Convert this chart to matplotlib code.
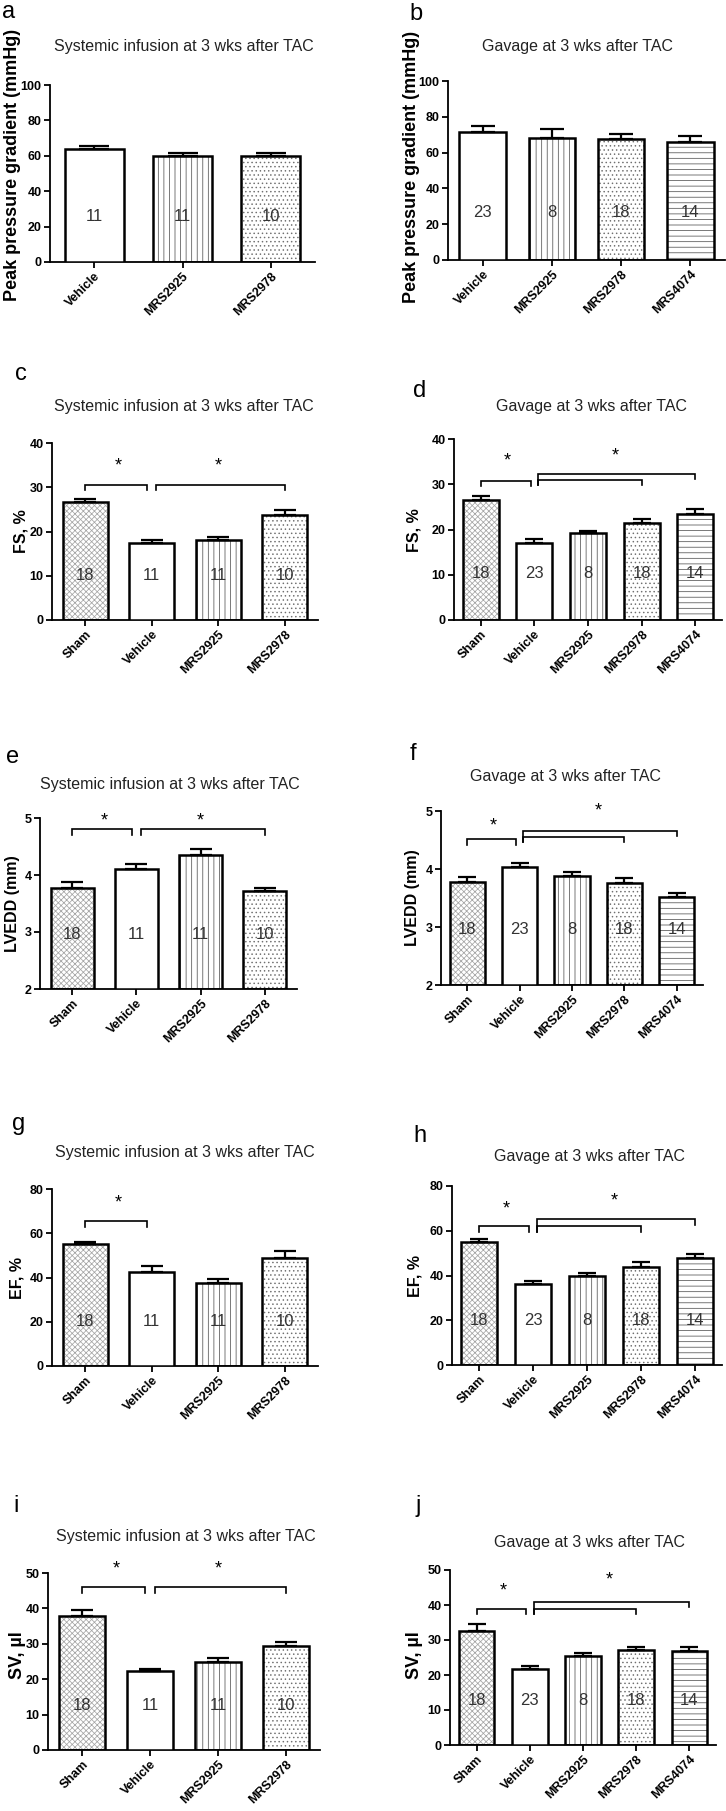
import matplotlib
matplotlib.use('Agg')
import matplotlib.pyplot as plt
import numpy as np

plt.rcParams['font.family'] = ['Liberation Sans', 'DejaVu Sans']
plt.rcParams['hatch.linewidth'] = 0.55

# ---------------- data ----------------
title_sys = 'Systemic infusion at 3 wks after TAC'
title_gav = 'Gavage at 3 wks after TAC'

a_groups = ['Vehicle', 'MRS2925', 'MRS2978']
a_mean = [63.8, 60.0, 60.0]
a_sem = [1.8, 1.7, 1.5]
a_n = [11, 11, 10]

b_groups = ['Vehicle', 'MRS2925', 'MRS2978', 'MRS4074']
b_mean = [71.4, 68.4, 67.8, 66.0]
b_sem = [3.3, 4.6, 2.8, 3.1]
b_n = [23, 8, 18, 14]

sys_groups = ['Sham', 'Vehicle', 'MRS2925', 'MRS2978']
sys_n = [18, 11, 11, 10]
gav_groups = ['Sham', 'Vehicle', 'MRS2925', 'MRS2978', 'MRS4074']
gav_n = [18, 23, 8, 18, 14]

c_mean = [26.6, 17.5, 18.0, 23.8]
c_sem = [0.7, 0.6, 0.7, 1.1]
d_mean = [26.6, 17.1, 19.2, 21.4, 23.5]
d_sem = [0.7, 0.9, 0.5, 1.0, 1.0]

e_mean = [3.77, 4.10, 4.35, 3.72]
e_sem = [0.10, 0.09, 0.10, 0.06]
f_mean = [3.78, 4.04, 3.885, 3.76, 3.52]
f_sem = [0.09, 0.07, 0.055, 0.09, 0.07]

g_mean = [55.0, 42.6, 37.6, 48.6]
g_sem = [1.0, 2.6, 1.6, 3.2]
h_mean = [55.0, 36.0, 40.0, 43.7, 47.7]
h_sem = [1.1, 1.6, 1.2, 2.2, 1.8]

i_mean = [37.9, 22.4, 24.9, 29.4]
i_sem = [1.6, 0.5, 1.2, 1.0]
j_mean = [32.7, 21.6, 25.3, 27.1, 27.0]
j_sem = [1.8, 1.1, 1.0, 0.9, 1.0]

# significance brackets: (from group, to group, level)
c_sig = [(0, 1, 30.6), (1, 3, 30.6)]
d_sig = [(0, 1, 30.8), (1, 3, 31.0), (1, 4, 32.3)]
e_sig = [(0, 1, 4.80), (1, 3, 4.80)]
f_sig = [(0, 1, 4.51), (1, 3, 4.55), (1, 4, 4.66)]
g_sig = [(0, 1, 65.5)]
h_sig = [(0, 1, 62.2), (1, 3, 62.2), (1, 4, 65.1)]
i_sig = [(0, 1, 46.05), (1, 3, 46.05)]
j_sig = [(0, 1, 39.0), (1, 3, 39.0), (1, 4, 41.0)]

# ---------------- styles ----------------
STYLE = {
    'Sham': dict(hatch='xxxxxx', hc='#a5a5a5'),
    'Vehicle': dict(hatch=None, hc='white'),
    'MRS2925': dict(hatch='|||', hc='#555555'),
    'MRS2978': dict(hatch='....', hc='#707070'),
    'MRS4074': dict(hatch='---', hc='#555555'),
}

W, H = 726, 1811
fig = plt.figure(figsize=(W / 100, H / 100), dpi=100)


def panel(letter, letter_xy, title, title_xy, box, groups, mean, sem, n,
          ylim, yticks, ylabel, ylab_xy, ylab_fs, sig=None, sig_drop=0,
          stars=None, n_frac=0.255):
    x0, x1, ytop, ybot = box
    ax = fig.add_axes([x0 / W, 1 - ybot / H, (x1 - x0) / W, (ybot - ytop) / H])
    x = np.arange(len(groups))
    bw = 0.67
    for xi, g, m in zip(x, groups, mean):
        st = STYLE[g]
        if st['hatch']:
            ax.bar(xi, m - ylim[0], bw, bottom=ylim[0], color='white',
                   edgecolor=st['hc'], hatch=st['hatch'], linewidth=0, zorder=2)
        ax.bar(xi, m - ylim[0], bw, bottom=ylim[0], fill=(st['hatch'] is None),
               facecolor='white', edgecolor='black', linewidth=1.8, zorder=3)
    bar_px = bw * (x1 - x0) / len(groups)
    ax.errorbar(x, mean, yerr=[np.zeros(len(mean)), sem], fmt='none',
                ecolor='black', elinewidth=1.6, capsize=bar_px * 0.25 * 0.72,
                capthick=1.6, zorder=4)
    for xi, k in zip(x, n):
        ax.text(xi, n_frac, str(k), transform=ax.get_xaxis_transform(),
                ha='center', va='center', fontsize=12, color='#333333', zorder=5)
    ax.set_xlim(-0.5, len(groups) - 0.5)
    ax.set_ylim(*ylim)
    ax.set_yticks(yticks)
    ax.set_xticks(x)
    ax.set_xticklabels(groups, rotation=45, ha='right', rotation_mode='anchor',
                       fontsize=9, fontweight='bold')
    for lab in ax.get_yticklabels():
        lab.set_fontweight('bold')
        lab.set_fontsize(9)
    for s in ['top', 'right']:
        ax.spines[s].set_visible(False)
    for s in ['left', 'bottom']:
        ax.spines[s].set_linewidth(1.3)
    ax.tick_params(direction='out', length=4, width=1.3, pad=2)
    # significance
    if sig:
        off = 0.07
        lefts = {}
        for (a, b, lev) in sig:
            xa = a + (off if a == 1 else 0)
            lefts.setdefault(xa, []).append(lev)
        for (a, b, lev) in sig:
            xa = a + (off if a == 1 else 0)
            xb = b - (off if b == 1 else 0)
            lb = min(lefts[xa]) - sig_drop
            ax.plot([xa, xa, xb, xb], [lb, lev, lev, lev - sig_drop],
                    color='black', lw=1.2, clip_on=False, zorder=5,
                    solid_joinstyle='miter')
        for (sx, sy) in stars:
            ax.text(sx, sy, '*', ha='center', va='center', fontsize=13,
                    clip_on=False)
    fig.text(letter_xy[0] / W, 1 - letter_xy[1] / H, letter, fontsize=17,
             ha='center', va='baseline')
    fig.text(title_xy[0] / W, 1 - title_xy[1] / H, title, fontsize=11.5,
             ha='center', va='center', color='#222222')
    fig.text(ylab_xy[0] / W, 1 - ylab_xy[1] / H, ylabel, rotation=90,
             ha='center', va='center', fontsize=ylab_fs, fontweight='bold')
    return ax


panel('a', (9, 18), title_sys, (184, 47), (50, 315, 85, 262), a_groups, a_mean,
      a_sem, a_n, (0, 100), [0, 20, 40, 60, 80, 100],
      'Peak pressure gradient (mmHg)', (13, 165), 13)
panel('b', (416, 20), title_gav, (578, 47), (448, 725, 81, 260), b_groups, b_mean,
      b_sem, b_n, (0, 100), [0, 20, 40, 60, 80, 100],
      'Peak pressure gradient (mmHg)', (411, 167), 13, n_frac=0.266)

panel('c', (21, 380), title_sys, (184, 407), (52, 318, 443, 620), sys_groups,
      c_mean, c_sem, sys_n, (0, 40), [0, 10, 20, 30, 40], 'FS, %', (21, 531), 11.5,
      sig=c_sig, sig_drop=1.2, stars=[(0.5, 34.7), (2.0, 34.7)], n_frac=0.25)
panel('d', (420, 397), title_gav, (591, 407), (454, 722, 439, 620), gav_groups,
      d_mean, d_sem, gav_n, (0, 40), [0, 10, 20, 30, 40], 'FS, %', (414, 530), 11.5,
      sig=d_sig, sig_drop=1.1, stars=[(0.5, 35.2), (2.5, 36.2)], n_frac=0.255)

panel('e', (13, 763), title_sys, (170, 784), (40, 297, 818, 989), sys_groups,
      e_mean, e_sem, sys_n, (2, 5), [2, 3, 4, 5], 'LVEDD (mm)', (13, 904), 11.5,
      sig=e_sig, sig_drop=0.1, stars=[(0.5, 4.94), (2.0, 4.94)], n_frac=0.317)
panel('f', (413, 760), title_gav, (566, 777), (441, 703, 811, 985), gav_groups,
      f_mean, f_sem, gav_n, (2, 5), [2, 3, 4, 5], 'LVEDD (mm)', (413, 898), 11.5,
      sig=f_sig, sig_drop=0.09, stars=[(0.5, 4.75), (2.5, 5.0)], n_frac=0.317)

panel('g', (19, 1130), title_sys, (185, 1152), (52, 318, 1189, 1366), sys_groups,
      g_mean, g_sem, sys_n, (0, 80), [0, 20, 40, 60, 80], 'EF, %', (17, 1278), 11.5,
      sig=g_sig, sig_drop=2.8, stars=[(0.5, 73.5)], n_frac=0.254)
panel('h', (420, 1142), title_gav, (589, 1157), (452, 722, 1186, 1365), gav_groups,
      h_mean, h_sem, gav_n, (0, 80), [0, 20, 40, 60, 80], 'EF, %', (415, 1276), 11.5,
      sig=h_sig, sig_drop=2.7, stars=[(0.5, 69.9), (2.5, 73.3)], n_frac=0.25)

panel('i', (16, 1512), title_sys, (186, 1537), (48, 320, 1573, 1750), sys_groups,
      i_mean, i_sem, sys_n, (0, 50), [0, 10, 20, 30, 40, 50], 'SV, µl',
      (17, 1655), 13, sig=i_sig, sig_drop=1.7, stars=[(0.5, 51.2), (2.0, 51.2)],
      n_frac=0.254)
panel('j', (418, 1512), title_gav, (589, 1543), (450, 716, 1570, 1745), gav_groups,
      j_mean, j_sem, gav_n, (0, 50), [0, 10, 20, 30, 40, 50], 'SV, µl',
      (415, 1655), 13, sig=j_sig, sig_drop=1.5, stars=[(0.5, 44.1), (2.5, 47.1)],
      n_frac=0.254)

fig.savefig('out.png', dpi=100, facecolor='white')
